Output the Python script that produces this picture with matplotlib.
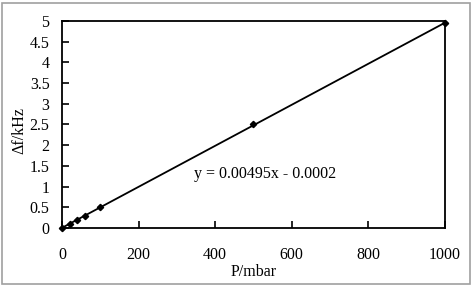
import matplotlib.pyplot as plt
import numpy as np
from matplotlib.patches import Rectangle

pressure = [0, 20, 40, 60, 100, 500, 1000]
delta_f = [0, 0.1, 0.2, 0.3, 0.5, 2.5, 4.95]
x_ticks = [0, 200, 400, 600, 800, 1000]
y_ticks = [0, 0.5, 1, 1.5, 2, 2.5, 3, 3.5, 4, 4.5, 5]
equation = "y = 0.00495x - 0.0002"

plt.rcParams["font.family"] = ["Liberation Serif", "DejaVu Serif"]

fig = plt.figure(figsize=(4.72, 2.85), dpi=100)
ax = fig.add_axes([62 / 472, 1 - 228 / 285, (445 - 62) / 472, (228 - 21) / 285])

slope, icpt = np.polyfit(pressure, delta_f, 1)
xs = np.array([pressure[0], pressure[-1]])
ax.plot(xs, slope * xs + icpt, color="black", linewidth=1.3, zorder=2)
ax.plot(pressure, delta_f, linestyle="none", marker="D", markersize=3.2,
        color="black", zorder=3, clip_on=False)

ax.set_xlim(0, 1000)
ax.set_ylim(0, 5)
ax.set_xticks(x_ticks)
ax.set_yticks(y_ticks)
ax.set_yticklabels([f"{v:g}" for v in y_ticks])
ax.tick_params(direction="in", length=5, width=1.2, labelsize=11.5, color="black")
ax.tick_params(axis="x", pad=14)
ax.tick_params(axis="y", pad=9)
for s in ax.spines.values():
    s.set_linewidth(1.3)

ax.set_xlabel("P/mbar", fontsize=11.5, va="center")
ax.set_ylabel("\u0394f/kHz", fontsize=11.5, va="center")
ax.xaxis.set_label_coords(0.5, -0.213)
ax.yaxis.set_label_coords(-0.11, 0.473)
ax.text(0.53, 0.26, equation, transform=ax.transAxes, fontsize=11.5, ha="center", va="center")

fig.patches.append(Rectangle((1.5 / 472, 1.5 / 285), 1 - 4 / 472, 1 - 4 / 285,
                             transform=fig.transFigure, fill=False,
                             edgecolor="#a0a0a0", linewidth=1.2))

fig.savefig("out.png", dpi=100)
